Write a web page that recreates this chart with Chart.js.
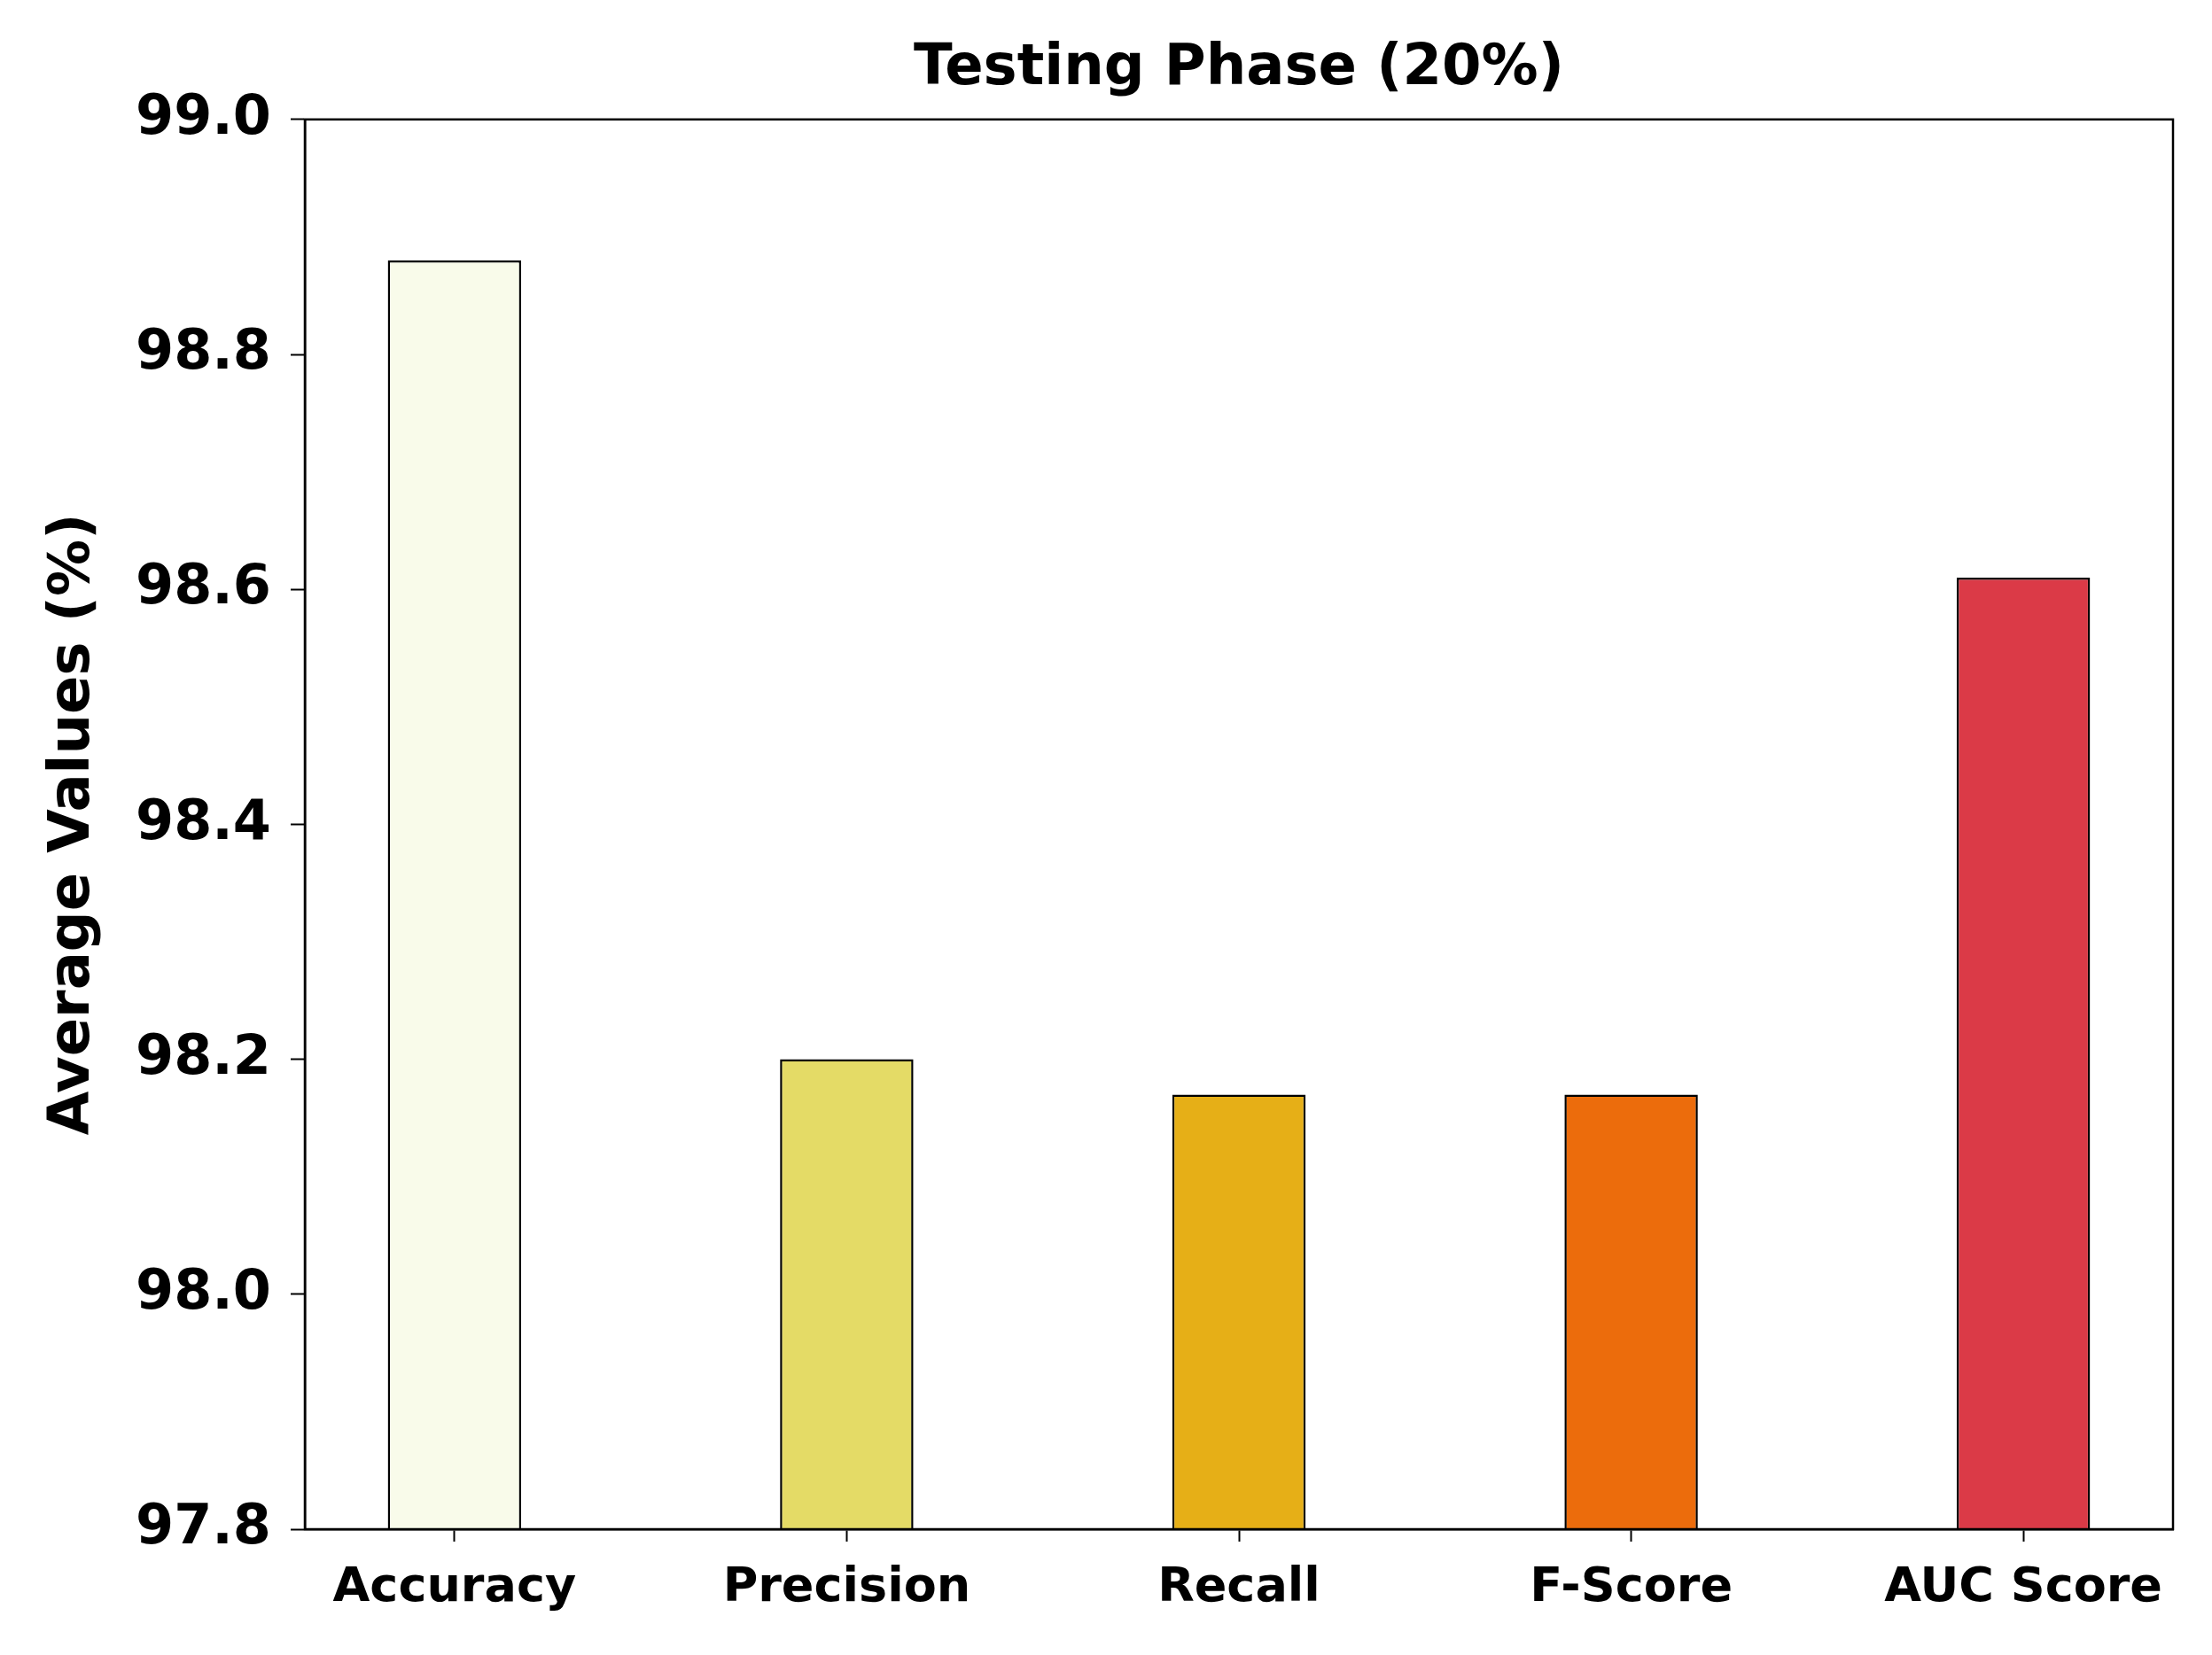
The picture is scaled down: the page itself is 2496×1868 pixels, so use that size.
<!DOCTYPE html>
<html>
<head>
<meta charset="utf-8">
<script src="https://cdn.jsdelivr.net/npm/chart.js@4"></script>
<style>
  html, body { margin: 0; padding: 0; background: #fff; }
  #wrap { width: 2496px; height: 1868px; }
</style>
</head>
<body>
<div id="wrap"><canvas id="myChart"></canvas></div>
<script>
var categories = ['Accuracy', 'Precision', 'Recall', 'F-Score', 'AUC Score']
var values = [98.88, 98.20, 98.17, 98.17, 98.61]
var barColors = ['#f9fbea', '#e4db66', '#e6af17', '#ec6c0c', '#db3a47']
var yTicks = [97.8, 98.0, 98.2, 98.4, 98.6, 98.8, 99.0]

chart()

function chart() {
    const ctx = document.getElementById('myChart');
    const font = 'DejaVu Sans';

    // draws the top and right spines
    const frame = {
        id: 'frame',
        afterDatasetsDraw(c) {
            const a = c.chartArea;
            const g = c.ctx;
            g.save();
            g.strokeStyle = '#000';
            g.lineWidth = 2.5;
            g.strokeRect(a.left, a.top, a.right - a.left, a.bottom - a.top);
            g.restore();
        }
    };

    new Chart(ctx, {
        type: 'bar',
        data: {
            datasets: [{
                data: values.map((v, i) => ({ x: i, y: v })),
                backgroundColor: barColors,
                borderColor: '#000',
                borderWidth: 2.5,
                borderSkipped: false,
                barPercentage: 0.34,
                categoryPercentage: 1.0,
            }]
        },
        plugins: [frame],
        options: {
            responsive: true,
            maintainAspectRatio: false,
            animation: false,
            layout: { padding: { left: 0, right: 44, top: 0, bottom: 0 } },
            plugins: {
                legend: { display: false },
                tooltip: { enabled: false },
                title: {
                    display: true,
                    text: 'Testing Phase (20%)',
                    fullSize: false,
                    color: '#000',
                    font: { family: font, size: 64, weight: 'bold', lineHeight: 1.2 },
                    padding: { top: 40, bottom: 18 }
                }
            },
            scales: {
                x: {
                    type: 'linear',
                    offset: false,
                    min: -0.3815,
                    max: 4.3815,
                    afterBuildTicks: (s) => { s.ticks = categories.map((c, i) => ({ value: i })); },
                    afterFit: (s) => { s.height = 142; },
                    grid: { offset: false, drawOnChartArea: false, drawTicks: true, tickLength: 14, tickWidth: 2, color: '#000' },
                    border: { color: '#000', width: 2.5 },
                    ticks: {
                        color: '#000',
                        padding: 21,
                        maxRotation: 0,
                        autoSkip: false,
                        font: { family: font, size: 54, weight: 'bold' },
                        callback: (v) => categories[v]
                    }
                },
                y: {
                    min: 97.8,
                    max: 99.0,
                    afterBuildTicks: (s) => { s.ticks = yTicks.map(v => ({ value: v })); },
                    afterFit: (s) => { s.width = 344; },
                    grid: { drawOnChartArea: false, drawTicks: true, tickLength: 16, tickWidth: 2, color: '#000' },
                    border: { color: '#000', width: 2.5 },
                    ticks: {
                        color: '#000',
                        padding: 22,
                        font: { family: font, size: 62, weight: 'bold' },
                        callback: (v) => v.toFixed(1)
                    },
                    title: {
                        display: true,
                        text: 'Average Values (%)',
                        color: '#000',
                        font: { family: font, size: 64, weight: 'bold', lineHeight: 1.2 },
                        padding: { top: 45, bottom: 0 }
                    }
                }
            }
        }
    });
}
</script>
</body>
</html>
